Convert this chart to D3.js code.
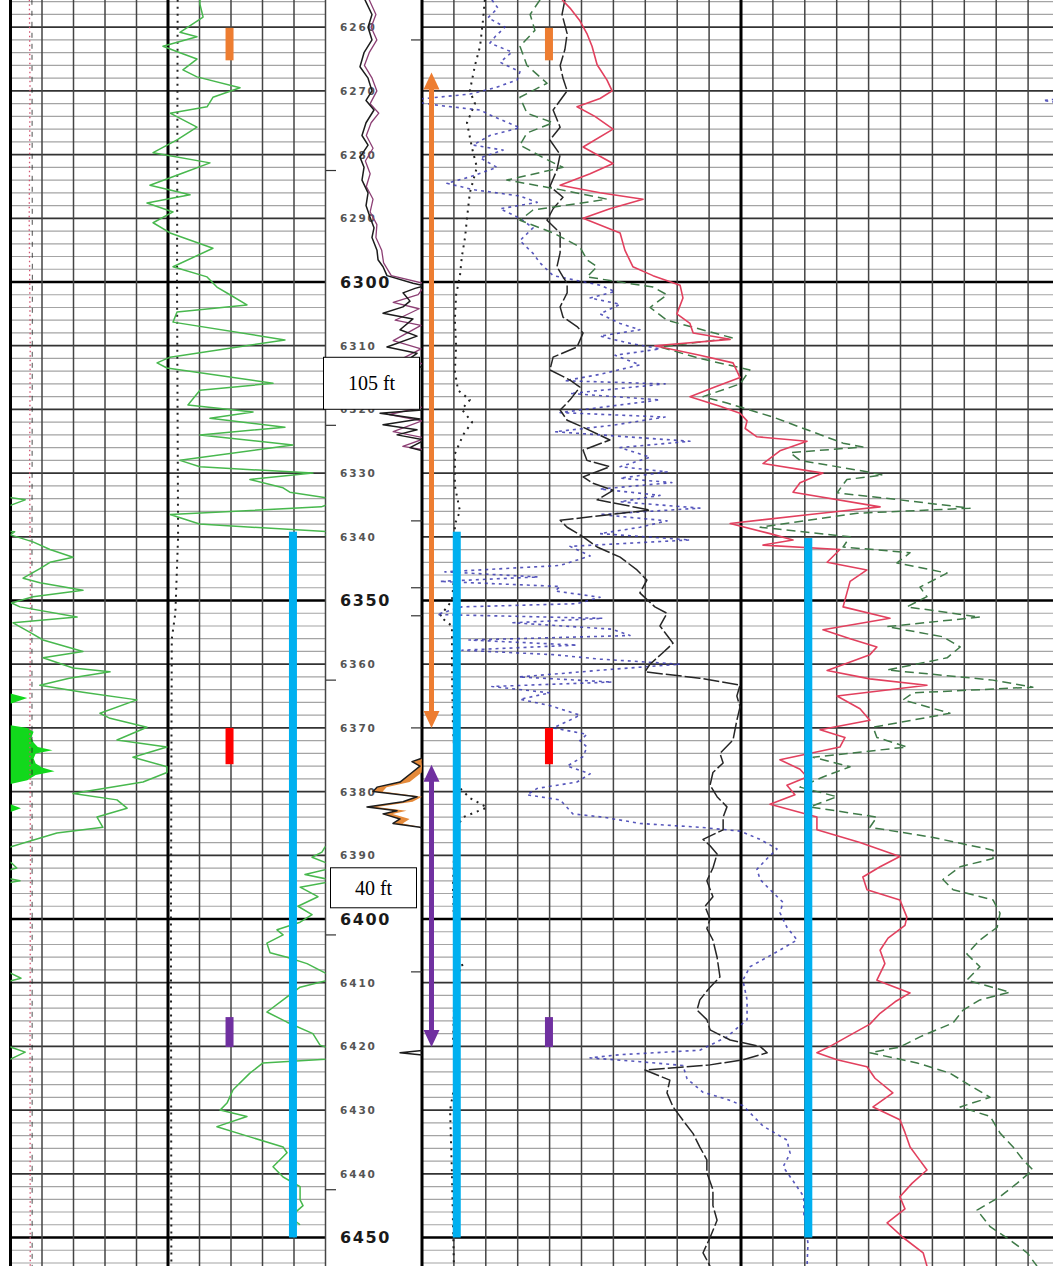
<!DOCTYPE html>
<html>
<head>
<meta charset="utf-8">
<script src="https://cdn.jsdelivr.net/npm/d3@7"></script>
<style>
  html, body { margin: 0; padding: 0; background: #fff; }
  svg { display: block; }
</style>
</head>
<body>
<svg id="log" width="1053" height="1266"></svg>
<script>
// ---------------- depth window ----------------
const depthTop = 6255.7;
const depthBottom = 6454.5;
const depthLabels = d3.range(6260, 6451, 10);
const majorDepths = [6300, 6350, 6400, 6450];
const leftDepthTicks = [6282.5, 6322.5, 6362.5, 6402.5, 6442.5];
const rightDepthTicks = [6262, 6337.5, 6348, 6352.4, 6370, 6408.3];

// ---------------- track 1 (gamma ray, API, 0-150 with backup wrap) ----------------
const gammaRay = [
  [6255.7,90.2],[6256.4,90.2],[6258.4,91.7],[6260.8,80.7],[6261.5,88.8],[6263.0,72.6],[6264.0,80.7],
  [6265.0,88.8],[6266.7,82.1],[6267.8,88.8],[6269.5,109.3],[6271.0,96.4],[6272.5,93.6],[6273.5,76.0],
  [6275.7,88.8],[6277.7,79.3],[6279.7,67.9],[6281.3,95.0],[6282.9,82.1],[6284.8,66.4],[6286.3,85.5],
  [6287.6,65.0],[6289.0,77.4],[6290.7,67.9],[6292.3,76.0],[6294.7,96.4],[6297.6,77.4],[6299.2,93.6],
  [6300.8,98.3],[6302.0,104.5],[6303.6,112.6],[6304.7,79.3],[6306.3,77.4],[6309.1,130.7],[6311.8,76.0],
  [6312.7,69.8],[6313.5,74.5],[6315.9,125.0],[6317.0,90.2],[6319.3,84.5],[6320.4,115.5],[6321.4,95.0],
  [6322.8,130.7],[6324.0,90.2],[6325.6,134.5],[6328.0,80.7],[6329.0,90.2],[6330.0,144.0],[6331.0,114.0],
  [6332.3,129.8],[6333.0,133.0],[6334.2,157.0],[6335.3,148.0],[6336.5,76.0],[6338.0,90.0],[6339.2,152.0],
  [6339.7,150.0],[6340.8,160.7],[6342.0,168.8],[6343.2,179.8],[6344.0,168.8],[6345.0,164.0],[6346.5,156.0],
  [6347.2,164.0],[6348.4,184.5],[6349.4,160.7],[6350.4,150.5],[6351.0,154.5],[6352.6,181.7],[6353.5,151.2],
  [6355.0,159.3],[6356.2,165.5],[6358.0,184.5],[6359.0,165.5],[6360.6,179.8],[6361.2,197.4],[6362.2,178.0],
  [6363.3,164.0],[6364.4,184.5],[6365.6,210.2],[6367.7,192.6],[6368.5,197.4],[6369.9,215.0],[6371.9,200.7],
  [6373.0,224.5],[6374.6,208.3],[6376.1,224.5],[6377.0,224.5],[6378.5,213.1],[6380.3,179.8],[6381.3,200.7],
  [6382.6,205.5],[6384.0,191.2],[6385.6,194.0],[6386.5,172.1],[6388.7,149.8],[6389.5,148.3],[6390.3,143.6],
  [6391.2,150.5],[6392.0,153.0],[6393.0,140.2],[6394.0,154.5],[6395.0,137.9],[6396.5,146.4],[6398.0,136.9],
  [6399.3,143.6],[6400.5,137.9],[6401.7,126.9],[6402.5,129.8],[6403.8,122.1],[6405.3,123.6],[6406.0,131.7],
  [6407.0,141.2],[6408.5,150.0],[6409.3,155.0],[6410.0,146.4],[6410.7,137.9],[6412.7,129.8],[6414.6,122.1],
  [6416.2,131.7],[6418.0,144.0],[6419.8,147.4],[6420.9,157.0],[6422.0,150.0],[6422.6,120.2],[6424.2,114.0],
  [6426.8,106.0],[6428.9,103.1],[6430.0,99.8],[6431.0,112.6],[6432.6,98.3],[6434.2,114.0],[6435.8,129.8],
  [6436.7,131.7],[6438.9,125.0],[6440.5,129.8],[6442.0,137.9],[6444.1,137.9],[6445.0,139.3],[6446.8,133.1],
  [6448.0,137.9]
];
const gammaRayFullScale = 150;

// second-wrap shading against the left edge of track 1
const gammaShading = [
  [6364.6,0],[6365.3,8],[6366.2,0],[6369.6,0],[6370.0,8],[6370.6,11],[6371.5,10],[6372.3,11],[6373.0,13],
  [6373.5,20],[6374.0,12],[6374.8,11],[6375.6,12],[6376.2,15],[6376.8,21],[6377.4,12],[6378.2,8],[6378.8,0],
  [6382.0,0],[6382.6,5],[6383.2,0]
];

// near-constant reference curves in track 1
const track1RedDotted = [[6255.7,9.0],[6270,9.3],[6290,8.9],[6310,9.4],[6330,9.1],[6350,9.5],[6370,9.2],[6390,9.5],[6420,9.3],[6454.5,9.4]];
const track1BlackDashed = [[6255.7,10.2],[6300,10.4],[6350,10.2],[6400,10.3],[6454.5,10.3]];
const track1BlackDotted = [[6255.7,79.6],[6300,79.3],[6340,79.8],[6352,78.5],[6356,76.8],[6400,76.4],[6454.5,76.6]];

// ---------------- depth track curve (0-100 across the depth column) ----------------
const depthCurveA = [
  [6255.7,40.6],[6258,47.9],[6260,43.8],[6262,47.9],[6264,39.6],[6266.2,35.4],[6268,43.8],[6270,47.9],
  [6271.5,41.7],[6273,50],[6275,41.7],[6277,37.5],[6278.5,43.8],[6280.4,35.4],[6282,39.6],[6284,37.5],
  [6286,43.8],[6288,41.7],[6289.8,45.8],[6291.5,50],[6293,47.9],[6295,53.1],[6296.5,54.2],[6297.6,59.4],
  [6299,63.5],[6300.2,90.6],[6300.6,103],[6301.0,92.7],[6301.7,80.2],[6303.0,87.5],[6303.9,80.2],
  [6304.9,59.4],[6305.8,90.6],[6307.5,77.1],[6308.5,94.8],[6310.2,63.5],[6311.2,94.8],[6312.3,84.4],
  [6313.3,97.9],[6314,110],[6320,110],[6320.6,56.3],[6321.5,97.9],[6322.4,59.4],[6323.2,94.8],[6324.0,74],
  [6324.8,103],[6326.0,87.5],[6326.6,103],[6374,110],[6374.8,99],[6375.3,89.6],[6376.0,97.9],[6377.0,89.6],
  [6378.5,77.1],[6379.3,53.1],[6380.0,49],[6380.8,94.8],[6381.6,80.2],[6382.4,42.7],[6383.0,74],
  [6383.5,59.4],[6384.3,77.1],[6385.0,69.8],[6385.6,97.9],[6386.2,110],[6420.5,110],[6421.0,77.1],
  [6421.5,110],[6454.5,110]
];
const depthCurveB = [
  [6255.7,45],[6258,52],[6260,47],[6262,53],[6264,45],[6266,40],[6268,48],[6270,53],[6272,46],[6273.5,55],
  [6275,47],[6277,42],[6279,49],[6281,41],[6283,46],[6285,42],[6287,49],[6289,46],[6291,53],[6293,52],
  [6295,58],[6297,60],[6299,68],[6300.3,104],[6302,96],[6303.2,70],[6304.2,97],[6306,72],[6306.8,99],
  [6309.2,70],[6310.5,99],[6312,80],[6313,104],[6318,110],[6319.5,104],[6320.8,66],[6321.8,100],
  [6323.5,70],[6324.5,104],[6325.8,80],[6326.4,104],[6420,110],[6454.5,110]
];
const lithoFillRange = [6374.8, 6385.6];

// ---------------- tracks 2-3 (shared 0-200 scale) ----------------
const redCurve = [
  [6255.7,43.9],[6257,46.4],[6259,49.5],[6261,51.7],[6263,53.3],[6265.9,54.9],[6268.3,58],[6270,59.6],
  [6271.2,55.8],[6272.5,48.6],[6274,54.2],[6276,59.9],[6278.8,50.5],[6281.4,59.9],[6283,52.7],[6284.8,43.3],
  [6286,55.8],[6287,69.3],[6288.5,58.9],[6290,50.5],[6292.3,62.1],[6295,63.6],[6297.6,66.1],[6299,72.4],
  [6300.5,80.9],[6302.5,81.8],[6305,79.9],[6306.5,84],[6308,85],[6309,96.6],[6310,73],[6311.5,87.1],
  [6312.7,97.5],[6315,99.7],[6316.5,91.8],[6318,84],[6319.5,93.4],[6320.6,99.7],[6321.8,101.9],[6323,101.3],
  [6324.3,105],[6325,120.7],[6326.5,112.2],[6328.5,106.9],[6330,125.7],[6331.5,118.5],[6333,116.3],
  [6335.3,143.6],[6336.5,121.6],[6337.9,96.6],[6339.5,109.1],[6340.5,116.3],[6341.3,106.9],[6342,131],
  [6344,127],[6345.2,139.5],[6347,134.2],[6348.8,133.2],[6351,132],[6352.8,146.7],[6354.6,125.7],
  [6356,134.2],[6357.3,142.6],[6358.5,140.4],[6361,127],[6362.3,140.4],[6363.3,158.3],[6365,130.1],
  [6367,137.3],[6368.8,140.4],[6370.3,124.8],[6371.5,132.6],[6373,131],[6375,112.2],[6376.5,118.5],
  [6377.7,120.7],[6379,114.4],[6380.5,116.9],[6382,109.1],[6384,123.8],[6386,123.8],[6388,137.3],
  [6390.2,149.8],[6391.8,143.6],[6393.4,138.2],[6395.4,139.5],[6397,149.8],[6399.7,152],[6401,151.4],
  [6403,146.1],[6404.9,143.6],[6407,145.1],[6409.6,142.6],[6411.6,153],[6413,148.3],[6414.8,143.6],
  [6416.5,140.4],[6418.5,133.2],[6420,127.9],[6421,123.8],[6422.1,130.1],[6423.2,139.5],[6425,142],
  [6427.3,147.6],[6429.5,141.4],[6431.5,149.8],[6433.5,151.4],[6435.8,153],[6437.5,155.5],[6439.4,158.3],
  [6441.5,153.6],[6443.6,149.8],[6445.5,151.4],[6447.7,145.8],[6450,150.8],[6452.4,157.1],[6454.5,158.3]
];

const greenDashed = [
  [6255.7,37],[6258,33.9],[6260.5,35.4],[6263,30.7],[6266,32.9],[6268.8,39.2],[6271,30.7],[6273.5,32.9],
  [6275,41.1],[6276.6,32.9],[6278.5,30.7],[6280.8,39.2],[6282,44.2],[6284,26.6],[6285.5,43.3],[6287,58],
  [6288.7,34.8],[6290.3,30.7],[6292.3,41.1],[6294.5,49.5],[6296.5,51.7],[6297.6,54.9],[6299.2,51.7],
  [6300.8,72.4],[6302,76.8],[6304,71.5],[6306,76.8],[6308.8,97.5],[6310.2,74.6],[6312,87.1],[6313.8,102.8],
  [6316,99.7],[6318,88.1],[6319,95.6],[6321.2,110],[6323.2,120.7],[6325.3,132],[6325.9,138.2],[6326.8,115.4],
  [6328,118.5],[6329.8,139.5],[6330.3,144.5],[6331,133.2],[6333.1,130.1],[6334.2,149.8],[6335.5,171.8],
  [6336.3,136.4],[6338.5,106],[6340,134.2],[6341.6,132],[6342.5,153],[6344.1,148.9],[6345.7,164.6],
  [6347.9,156.1],[6349.4,158.3],[6351,152],[6352.6,174.9],[6354.1,145.8],[6355.7,163.3],[6357.3,168.7],
  [6359,164.6],[6360.9,145.8],[6362.5,179],[6363.6,191.5],[6364.5,153.9],[6365.6,150.8],[6367.7,165.5],
  [6369.9,141.4],[6371.5,142.6],[6373,152],[6374.6,122.6],[6376.1,134.2],[6377.7,125.7],[6379.3,118.5],
  [6380.8,130.1],[6382.4,121.6],[6384,142.6],[6385.6,140.4],[6387.2,160.2],[6389.2,179],[6390.5,179],
  [6391.8,168.7],[6393.8,163.3],[6395.4,166.5],[6397,179],[6399.1,181.2],[6401.3,180.3],[6403.3,174.9],
  [6405.5,170.8],[6407.5,174.9],[6409.6,170.8],[6411.5,184.3],[6412.7,174.9],[6414.3,169.6],[6416.3,166.5],
  [6418.5,156.1],[6420.1,149.8],[6421,140.4],[6422.6,155.2],[6424.2,165.5],[6426.4,172.7],[6428,178.1],
  [6429.5,168.7],[6431,178.1],[6433.6,181.2],[6435.8,185.3],[6437.8,188.4],[6439.4,191.5],[6441.5,186.5],
  [6443.6,181.2],[6445.7,174],[6448.3,178.1],[6450.4,184.3],[6452.4,189.7],[6454.5,192.8]
];

const blackSolid = [
  [6255.7,44.8],[6258,43.9],[6261,45.5],[6263.5,44.8],[6266,43.3],[6268,44.2],[6270,45.5],[6273,41.1],
  [6275.7,43.3],[6277.7,40.1],[6280,43.3],[6282.4,42.3],[6285,40.1],[6286.7,44.2],[6288.5,41.1],[6290.3,39.2],
  [6292.3,43.3],[6295.4,43.3],[6297.6,42.3],[6299.2,44.2],[6300.2,45.5],[6301.7,45.5],[6303.9,43.3],
  [6305.5,44.2],[6307,48.6],[6308,50.5],[6310.2,48.6],[6311.8,41.1],[6313.8,40.1],[6315.4,46.4],[6316.5,49.5],
  [6318.5,46.4],[6320.1,43.3],[6321.7,45.5],[6322.8,50.5],[6324.8,58.9],[6326.4,50.5],[6328,51.7],[6329,58.9],
  [6330.6,50.5],[6331.6,53.6],[6332.7,59.9],[6334.2,54.9],[6335.8,71.5],[6337.4,43.3],[6338.5,45.5],
  [6340,50.5],[6341.6,54.9],[6343.2,62.1],[6345.2,67.4],[6346.8,70.5],[6348.8,68.3],[6351,73],[6352,76.8],
  [6354,74.6],[6356.7,78.7],[6358.2,75.5],[6360,71.5],[6361.2,69.9],[6362.2,87.1],[6363.3,99.7],[6365,98.7],
  [6366.7,99.7],[6368.8,98.7],[6371.9,97.5],[6374,93.4],[6375.5,94.4],[6377,91.2],[6379,90.3],[6380.8,92.5],
  [6382.4,95.6],[6384,94.4],[6386,94.4],[6387.5,88.1],[6388.5,90.3],[6389.8,92.5],[6392,91.2],[6394,89.3],
  [6396.5,91.2],[6398,88.7],[6400,90.3],[6401.5,89.3],[6403.3,91.2],[6406,92.5],[6409.1,93.4],[6410.7,90.3],
  [6412.7,87.1],[6414.3,86.2],[6415.8,89.3],[6417.4,90.3],[6419,96.6],[6420,106],[6421,108.2],[6422.1,100.6],
  [6422.9,90.3],[6423.7,69.9],[6425.3,77.7],[6427.3,76.8],[6429.5,78.7],[6431.6,81.8],[6433.7,85],
  [6435.8,87.1],[6437.8,89.3],[6439.8,89.3],[6442.5,91.2],[6445,91.2],[6447.3,92.5],[6450,90.3],
  [6452.4,88.1],[6454.5,90.3]
];

const blackDotted = [
  [6255.7,19.7],[6259,19.1],[6263,18.2],[6266,16.6],[6270,15],[6272,16.6],[6275,14.1],[6279,15.7],
  [6282,17.2],[6286,15],[6290,14.1],[6293,13.5],[6296,12.5],[6299,11.9],[6302,10.7],[6306,10.3],[6310,10.7],
  [6314,10.3],[6317,11.3],[6318.5,15],[6320,12.5],[6322,15.7],[6324,12.9],[6327,10.3],[6332,10.3],
  [6336,11.9],[6338,10.3],[6345,10.3],[6350,9.4],[6352.5,5.6],[6354,9.4],[6360,9.4],[6370,9.7],[6375,10.3],
  [6379,11],[6381,15],[6382.5,20.4],[6384,12.9],[6386,10.3],[6395,9.7],[6405,10.3],[6407.5,12.9],[6409,10.3],
  [6420,9.7],[6423,11.3],[6430,8.8],[6440,9.4],[6454.5,10]
];

const blueDotted = [
  [6255.7,21.9],[6257,23.8],[6258.5,20.7],[6260,26],[6261.5,22.9],[6262.5,21.3],[6263.9,28.2],[6265.5,24.5],
  [6267,30.7],[6268.3,29.8],[6269.5,22.9],[6270.5,15],[6271.5,-5.3],[6272.3,5.6],[6273,18.2],[6274,22.3],
  [6275.8,30.7],[6277,21.3],[6278.5,16],[6279.3,25.4],[6280.5,18.2],[6282,23.5],[6283.5,15],[6284.5,7.8],
  [6285.5,16],[6286.5,30.7],[6287.5,36.1],[6288.5,24.5],[6290,30.7],[6291.5,34.8],[6293.5,30.7],
  [6295.5,34.8],[6297,37],[6299,41.1],[6300.5,55.8],[6301.5,60.5],[6302.5,52.7],[6303.5,62.1],[6305,55.8],
  [6306.5,62.1],[6307.5,68.3],[6308.5,55.8],[6309.5,64],[6310.5,74.6],[6311.5,60.5],[6313,68.3],
  [6314.5,55.8],[6315.5,44.8],[6316,76.2],[6317.5,46.4],[6318.5,74.6],[6320.5,43.3],[6321.2,76.2],
  [6322.5,59.6],[6323.5,41.7],[6324,55.8],[6325,84],[6326,62.1],[6327.5,71.5],[6329,62.1],[6329.8,76.8],
  [6330.8,62.1],[6331.5,78.3],[6332.5,55.8],[6333.5,74.6],[6334.5,62.1],[6335.5,87.1],[6336.5,55.8],
  [6337.5,76.8],[6338.5,68.3],[6339.5,55.8],[6340.5,84],[6341.5,46.4],[6343,52.7],[6344.5,43.3],
  [6345.5,7.2],[6346.3,36.4],[6347,5.6],[6347.8,43.3],[6348.5,41.7],[6349.5,55.8],[6350.5,48.6],[6351,12.5],
  [6352.2,4.7],[6352.8,56.7],[6353.5,28.5],[6354.5,59.6],[6355.5,65.2],[6356.2,14.7],[6357,48.6],
  [6357.8,12.5],[6358.5,41.1],[6359.2,55.8],[6360,80.9],[6360.8,59.6],[6362,30.4],[6362.8,59.6],
  [6363.5,21.9],[6364.5,40.1],[6365.5,30.7],[6366.5,40.1],[6368,49.5],[6369,45.5],[6370,41.1],[6371,51.7],
  [6372,49.5],[6373,51.7],[6374.5,50.5],[6376,45.5],[6377.2,52.7],[6378.5,48.6],[6379.5,36.1],[6380.5,32.9],
  [6381.3,43.3],[6382.5,45.5],[6383.5,47.3],[6384,56.7],[6385,68.3],[6385.6,87.1],[6386.2,99.7],
  [6387.5,106],[6389,111.3],[6390.5,108.2],[6392.2,105],[6393.8,106],[6395.4,109.1],[6397.4,113.2],
  [6399,112.2],[6401.3,114.4],[6403.3,117.6],[6405.5,110],[6407.5,102.8],[6409.6,100.6],[6412.7,101.9],
  [6415.8,101.9],[6418.5,95.6],[6420.6,87.1],[6421.3,62.1],[6421.8,52.7],[6422.4,68.3],[6423,81.8],
  [6425.1,83.1],[6427.2,88.1],[6428.3,95.6],[6429.3,100.6],[6432.5,106.9],[6434.7,114.4],[6436.8,115.4],
  [6438.9,113.2],[6441.1,116.3],[6443.6,119.7],[6446.3,119.7],[6450.9,121],[6454.5,120.7]
];
const tracks23FullScale = 200;

// ---------------- interval annotations ----------------
const zoneMarkers = [
  { color: "#ed7d31", top: 6260.1, base: 6265.2 },
  { color: "#ff0000", top: 6370.0, base: 6375.7 },
  { color: "#7030a0", top: 6415.4, base: 6420.1 }
];
const markerPosTrack1 = 104.3;   // API
const markerPosTrack23 = 39.8;   // shared scale units
const perforationTop = 6339.2;
const perforationTop3 = 6340.2;
const perforationBase = 6450;
const perforationT1 = 134.5;     // API
const perforationT2 = 10.9;      // shared units
const perforationT3 = 121.1;     // shared units

const intervals = [
  { label: "105 ft", color: "#ed7d31", top: 6267.1, base: 6370.0, boxCenter: 6315.9 },
  { label: "40 ft",  color: "#7030a0", top: 6375.8, base: 6420.1, boxCenter: 6395.1 }
];

// ---------------- layout ----------------
const svg = d3.select("#log");
const W = 1053, H = 1266;

const y = d3.scaleLinear().domain([6300, 6450]).range([282, 1237.5]);
const xT1 = d3.scaleLinear().domain([0, gammaRayFullScale]).range([10.5, 325.5]);
const xDT = d3.scaleLinear().domain([0, 100]).range([326, 422]);
const xT23 = d3.scaleLinear().domain([0, tracks23FullScale]).range([422, 1060]);

svg.append("rect").attr("width", W).attr("height", H).attr("fill", "#fff");

const defs = svg.append("defs");
function clip(id, x0, x1) {
  defs.append("clipPath").attr("id", id).append("rect")
    .attr("x", x0).attr("y", 0).attr("width", x1 - x0).attr("height", H);
}
clip("clipT1", xT1(0), xT1(gammaRayFullScale));
clip("clipDT", xDT(0), xDT(100));
clip("clipT23", xT23(0), xT23(tracks23FullScale));

// ---------------- grid ----------------
const grid = svg.append("g");
const fineDepths = d3.range(6256, 6455, 2);
function hLines(x0, x1) {
  grid.append("g").selectAll("line").data(fineDepths).join("line")
    .attr("x1", x0).attr("x2", x1)
    .attr("y1", d => y(d)).attr("y2", d => y(d))
    .attr("stroke", d => d % 50 === 0 ? "#000" : d % 10 === 0 ? "#333" : "#a4a4a4")
    .attr("stroke-width", d => d % 50 === 0 ? 2.6 : d % 10 === 0 ? 1.7 : 1.2);
}
hLines(xT1(0), xT1(gammaRayFullScale));
hLines(xT23(0), W);

grid.append("g").selectAll("line").data(d3.range(0, 151, 15)).join("line")
  .attr("x1", d => xT1(d)).attr("x2", d => xT1(d)).attr("y1", 0).attr("y2", H)
  .attr("stroke", d => (d === 0 || d === 75) ? "#000" : "#444")
  .attr("stroke-width", d => (d === 0 || d === 75) ? 3 : 1.5);

grid.append("g").selectAll("line").data(d3.range(0, 201, 10)).join("line")
  .attr("x1", d => xT23(d)).attr("x2", d => xT23(d)).attr("y1", 0).attr("y2", H)
  .attr("stroke", d => (d === 0 || d === 100) ? "#000" : "#444")
  .attr("stroke-width", d => (d === 0 || d === 100) ? 3 : 1.5);

// ---------------- depth column ----------------
const depthG = svg.append("g");
depthG.selectAll("text").data(depthLabels).join("text")
  .attr("x", 340)
  .attr("y", d => y(d))
  .attr("dominant-baseline", "central")
  .attr("font-family", "DejaVu Sans, sans-serif")
  .attr("font-weight", "bold")
  .attr("font-size", d => majorDepths.includes(d) ? 16 : 10.5)
  .attr("letter-spacing", d => majorDepths.includes(d) ? 1.6 : 1.9)
  .attr("fill", d => majorDepths.includes(d) ? "#1a1a1a" : "#555")
  .text(d => d);

depthG.selectAll("line.lt").data(leftDepthTicks).join("line")
  .attr("x1", 326).attr("x2", 336).attr("y1", d => y(d)).attr("y2", d => y(d))
  .attr("stroke", "#333").attr("stroke-width", 1.2);
depthG.selectAll("line.rt").data(rightDepthTicks).join("line")
  .attr("x1", 411).attr("x2", 422).attr("y1", d => y(d)).attr("y2", d => y(d))
  .attr("stroke", "#333").attr("stroke-width", 1.2);

// ---------------- curve helpers ----------------
const curves = svg.append("g");
function drawLine(data, xs, clipId, style, shift = 0) {
  const line = d3.line().x(d => xs(d[1] + shift)).y(d => y(d[0]));
  const p = curves.append("path").datum(data)
    .attr("d", line).attr("fill", "none")
    .attr("clip-path", `url(#${clipId})`)
    .attr("stroke-linejoin", "round");
  Object.entries(style).forEach(([k, v]) => p.attr(k, v));
  return p;
}

// track 1
const shadeArea = d3.area().y(d => y(d[0])).x0(xT1(0)).x1(d => xT1(d[1]));
curves.append("path").datum(gammaShading).attr("d", shadeArea)
  .attr("fill", "#12d81c").attr("clip-path", "url(#clipT1)");

drawLine(track1RedDotted, xT1, "clipT1", { stroke: "#d2506e", "stroke-width": 1.3, "stroke-dasharray": "1.5,3" });
drawLine(track1BlackDashed, xT1, "clipT1", { stroke: "#222", "stroke-width": 1, "stroke-dasharray": "5,6", opacity: 0.8 });
drawLine(track1BlackDotted, xT1, "clipT1", { stroke: "#222", "stroke-width": 2, "stroke-dasharray": "2,5" });

const grStyle = { stroke: "#48b84e", "stroke-width": 1.5 };
drawLine(gammaRay, xT1, "clipT1", grStyle);
drawLine(gammaRay, xT1, "clipT1", grStyle, -gammaRayFullScale);

// depth column curves
const litho = depthCurveA.filter(d => d[0] >= lithoFillRange[0] && d[0] <= lithoFillRange[1]);
curves.append("path").datum(litho)
  .attr("d", d3.area().y(d => y(d[0])).x0(d => xDT(Math.min(d[1], 100))).x1(d => xDT(Math.min(d[1] + 10, 100))))
  .attr("fill", "#e58a3a").attr("clip-path", "url(#clipDT)");
drawLine(depthCurveB, xDT, "clipDT", { stroke: "#8c3f74", "stroke-width": 1.3 });
drawLine(depthCurveA, xDT, "clipDT", { stroke: "#1c1c1c", "stroke-width": 1.5 });

// tracks 2-3
const blueStyle = { stroke: "#3a3ab0", "stroke-width": 1.6, "stroke-dasharray": "3,4", opacity: 0.85 };
drawLine(blackDotted, xT23, "clipT23", { stroke: "#222", "stroke-width": 2, "stroke-dasharray": "2,5" });
drawLine(blueDotted, xT23, "clipT23", blueStyle);
drawLine(blueDotted, xT23, "clipT23", blueStyle, tracks23FullScale);
drawLine(blackSolid, xT23, "clipT23", { stroke: "#262626", "stroke-width": 1.5, "stroke-dasharray": "16,3" });
drawLine(greenDashed, xT23, "clipT23", { stroke: "#3f7a48", "stroke-width": 1.5, "stroke-dasharray": "9,5" });
drawLine(redCurve, xT23, "clipT23", { stroke: "#e2405e", "stroke-width": 1.6 });

// ---------------- annotations ----------------
const ann = svg.append("g");
const markW = 8;
zoneMarkers.forEach(m => {
  [xT1(markerPosTrack1), xT23(markerPosTrack23)].forEach(cx => {
    ann.append("rect")
      .attr("x", cx - markW / 2).attr("y", y(m.top))
      .attr("width", markW).attr("height", y(m.base) - y(m.top))
      .attr("fill", m.color);
  });
});

[[xT1(perforationT1), perforationTop], [xT23(perforationT2), perforationTop], [xT23(perforationT3), perforationTop3]]
  .forEach(([cx, top]) => {
    ann.append("rect")
      .attr("x", cx - 4).attr("y", y(top))
      .attr("width", 8).attr("height", y(perforationBase) - y(top))
      .attr("fill", "#00b0f0");
  });

const arrowX = 431.5, headW = 8, headH = 17;
intervals.forEach(iv => {
  const yt = y(iv.top), yb = y(iv.base);
  ann.append("line")
    .attr("x1", arrowX).attr("x2", arrowX)
    .attr("y1", yt + headH - 2).attr("y2", yb - headH + 2)
    .attr("stroke", iv.color).attr("stroke-width", 5);
  ann.append("path")
    .attr("d", `M${arrowX},${yt} L${arrowX + headW},${yt + headH} L${arrowX - headW},${yt + headH} Z`)
    .attr("fill", iv.color);
  ann.append("path")
    .attr("d", `M${arrowX},${yb} L${arrowX + headW},${yb - headH} L${arrowX - headW},${yb - headH} Z`)
    .attr("fill", iv.color);
});

const boxes = [
  { iv: intervals[0], x0: 323.5, x1: 419.5, h: 52 },
  { iv: intervals[1], x0: 330.5, x1: 416.5, h: 40 }
];
boxes.forEach(b => {
  const cy = y(b.iv.boxCenter);
  ann.append("rect")
    .attr("x", b.x0).attr("y", cy - b.h / 2)
    .attr("width", b.x1 - b.x0).attr("height", b.h)
    .attr("fill", "#fff").attr("stroke", "#000").attr("stroke-width", 1);
  ann.append("text")
    .attr("x", (b.x0 + b.x1) / 2).attr("y", cy)
    .attr("text-anchor", "middle").attr("dominant-baseline", "central")
    .attr("font-family", "Liberation Serif, Times New Roman, serif")
    .attr("font-size", 20).attr("fill", "#000")
    .text(b.iv.label);
});
</script>
</body>
</html>
